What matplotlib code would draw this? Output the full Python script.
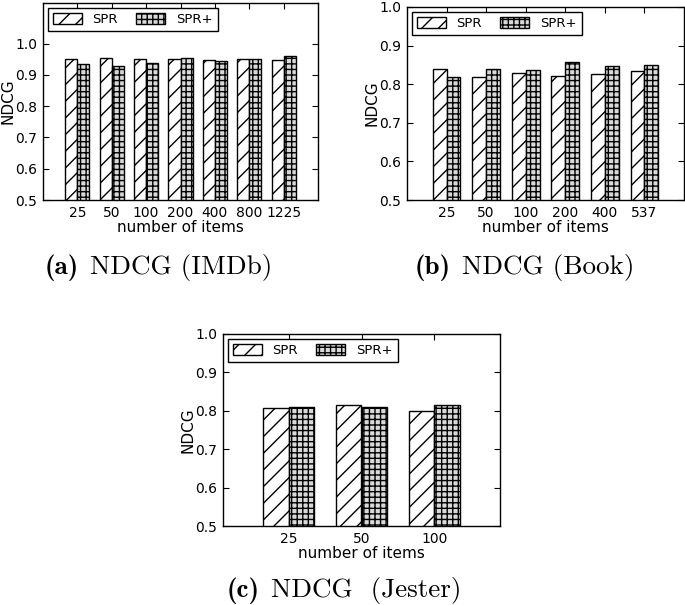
import numpy as np
import matplotlib
matplotlib.use('Agg')
import matplotlib.pyplot as plt

plt.rcParams['hatch.linewidth'] = 1.0

labels_imdb = ['25', '50', '100', '200', '400', '800', '1225']
spr_imdb = [0.950, 0.955, 0.950, 0.952, 0.948, 0.950, 0.947]
sprp_imdb = [0.936, 0.928, 0.938, 0.954, 0.946, 0.952, 0.960]

labels_book = ['25', '50', '100', '200', '400', '537']
spr_book = [0.840, 0.819, 0.828, 0.820, 0.826, 0.833]
sprp_book = [0.819, 0.840, 0.836, 0.857, 0.847, 0.849]

labels_jester = ['25', '50', '100']
spr_jester = [0.807, 0.814, 0.800]
sprp_jester = [0.809, 0.811, 0.814]

fig = plt.figure(figsize=(6.85, 6.05), dpi=100)


def panel(rect, labels, spr, sprp, xlim, ytop):
    ax = fig.add_axes(rect)
    x = np.arange(len(labels))
    w = 0.35
    ax.bar(x - w / 2, spr, w, color='white', edgecolor='black',
           hatch='//', linewidth=1, label='SPR')
    ax.bar(x + w / 2, sprp, w, color='#d9d9d9', edgecolor='black',
           hatch='+++', linewidth=1, label='SPR+')
    ax.set_xlim(*xlim)
    ax.set_ylim(0.5, ytop)
    ax.set_yticks([0.5, 0.6, 0.7, 0.8, 0.9, 1.0])
    ax.set_yticklabels(['0.5', '0.6', '0.7', '0.8', '0.9', '1.0'])
    ax.set_xticks(x)
    ax.set_xticklabels(labels)
    ax.tick_params(direction='in', top=True, right=True, length=4,
                   labelsize=10, pad=4)
    ax.set_xlabel('number of items', fontsize=11, labelpad=0)
    ax.set_ylabel('NDCG', fontsize=11, labelpad=0)
    for s in ax.spines.values():
        s.set_linewidth(1)
    leg = ax.legend(loc='upper left', ncol=2, fontsize=9.5, fancybox=False,
                    edgecolor='black', framealpha=1, handlelength=2.2,
                    handleheight=0.9, columnspacing=1.4,
                    borderaxespad=0.35)
    leg.get_frame().set_linewidth(1)
    return ax


def caption(ax, x, y, tag, name):
    t = fig.text(x, y, tag, fontsize=19.5, family='cmb10',
                 ha='left', va='center')
    ax.annotate(name, xy=(1, 0), xycoords=t, xytext=(8, 0),
                textcoords='offset points', fontsize=19.5, family='cmr10',
                ha='left', va='bottom', annotation_clip=False)


ax_a = panel([43 / 685, 1 - 200 / 605, 275 / 685, 197 / 605],
             labels_imdb, spr_imdb, sprp_imdb, (-1, 7), 1.13)
ax_b = panel([407 / 685, 1 - 200 / 605, 277 / 685, 193 / 605],
             labels_book, spr_book, sprp_book, (-1, 6), 1.0)
ax_c = panel([223 / 685, 1 - 526 / 605, 277 / 685, 192 / 605],
             labels_jester, spr_jester, sprp_jester, (-0.9, 2.9), 1.0)

caption(ax_a, 45 / 685, 1 - 268 / 605, '(a)', 'NDCG (IMDb)')
caption(ax_b, 415 / 685, 1 - 268 / 605, '(b)', 'NDCG (Book)')
caption(ax_c, 227 / 685, 1 - 591 / 605, '(c)', 'NDCG  (Jester)')

fig.savefig('out.png', dpi=100)
